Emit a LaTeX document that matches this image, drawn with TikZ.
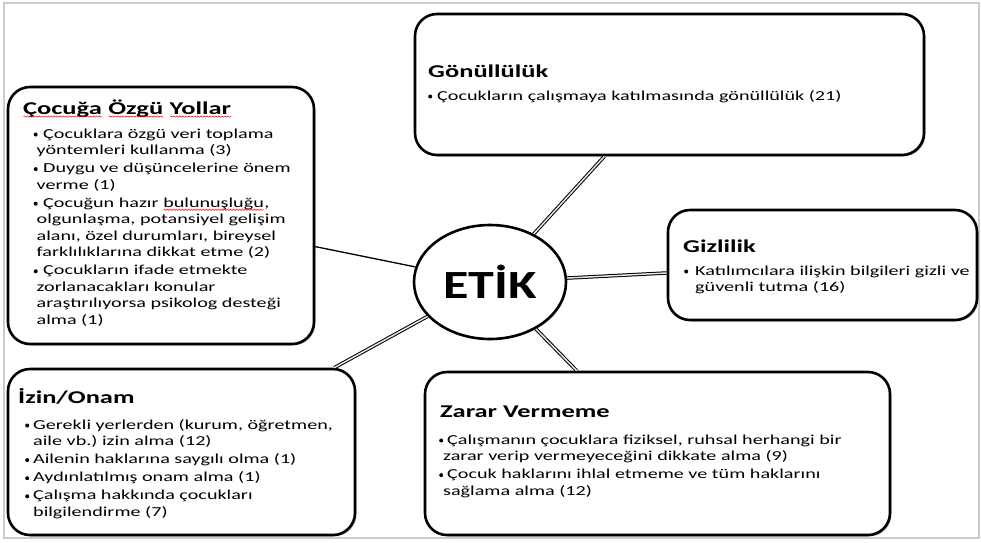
\documentclass[tikz,border=0pt]{standalone}
\usepackage{fontspec}
\setmainfont{Carlito}[FakeStretch=1.47]
\newfontfamily\etikfont{Carlito}[FakeStretch=1.3]
\usetikzlibrary{shapes.geometric,shadows,decorations.pathmorphing}
\setlength\parindent{0pt}
\frenchspacing
\newsavebox\sqbox
\newcommand\redsq[1]{\sbox\sqbox{#1}\leavevmode\rlap{\usebox\sqbox}\raisebox{-3.5pt}{\tikz[x=1pt,y=1pt]\draw[red, line width=0.5pt, decorate, decoration={snake, amplitude=0.7pt, segment length=3pt}] (0,0) -- (\the\wd\sqbox,0);}}
\newcommand\dotb{\makebox[0pt]{\raisebox{3.5pt}{\tikz[baseline=0pt]\fill[black] (0,0) circle (2pt);}}}
\newlength\bt
\newlength\hg
\newcommand\bitem[1]{\hangindent=\hg\hangafter=1\noindent\dotb\hspace*{\bt}#1\par}
\begin{document}
\begin{tikzpicture}[x=1pt,y=-1pt,
  box/.style={draw, line width=2.6pt, rounded corners=22pt, fill=white,
    drop shadow={shadow xshift=1.5pt, shadow yshift=-1.5pt, fill=black, opacity=0.25}},
  ttl/.style={anchor=base west, inner sep=0pt, font=\fontsize{18}{20}\selectfont\bfseries},
  blist/.style={anchor=base west, inner sep=0pt, text width=#1,
    font=\fontsize{13.7}{16.5}\selectfont,
    execute at begin node={\raggedright\frenchspacing\setlength\parskip{1.6pt}\setlength\parindent{0pt}}},
  link/.style={line width=1.3pt},
  dlink/.style={line width=1pt, double=white!80!gray, double distance=1.5pt}]
\useasboundingbox (0,0) rectangle (981,542);
\draw[gray!40, line width=1.5pt] (4,3) rectangle (979,538);

% boxes
\node[box, minimum width=306pt, minimum height=257pt] (cocuk) at (161,215.5) {};
\node[box, minimum width=509pt, minimum height=141pt] (gonul) at (669.5,84.5) {};
\node[box, minimum width=309pt, minimum height=110pt] (gizli) at (822.5,265) {};
\node[box, minimum width=347pt, minimum height=166pt] (izin) at (181.5,452) {};
\node[box, minimum width=465pt, minimum height=163pt] (zarar) at (657.5,453.5) {};
\node[draw, ellipse, line width=2.6pt, minimum width=152pt, minimum height=114pt,
  inner sep=0pt, fill=white, font=\etikfont\bfseries\fontsize{40}{44}\selectfont,
  drop shadow={shadow xshift=1.2pt, shadow yshift=-1.2pt, fill=black, opacity=0.2}] (etik) at (490,282) {ETİK};

% connectors
\draw[link] (cocuk) -- (etik);
\draw[dlink] (etik) -- (gonul);
\draw[dlink] (etik) -- (gizli);
\draw[dlink] (etik) -- (izin);
\draw[dlink] (etik) -- (zarar);

% texts
\node[ttl] (cocukT) at (23,114) {\redsq{Çocuğa} \redsq{Özgü} \redsq{Yollar}};
\node[blist=400pt] (cocukL) at (35.5,138) {\setlength\bt{7.5pt}\setlength\hg{1pt}%
  \bitem{Çocuklara özgü veri toplama\newline yöntemleri kullanma (3)}%
  \bitem{Duygu ve düşüncelerine önem\newline verme (1)}%
  \bitem{Çocuğun hazır \redsq{bulunuşluğu},\newline olgunlaşma, potansiyel gelişim\newline alanı, özel durumları, bireysel\newline farklılıklarına dikkat etme (2)}%
  \bitem{Çocukların ifade etmekte\newline zorlanacakları konular\newline araştırılıyorsa psikolog desteği\newline alma (1)}};

\node[ttl] (gonulT) at (428,77) {Gönüllülük};
\node[blist=500pt] (gonulL) at (430,100) {\setlength\bt{7pt}\setlength\hg{7pt}%
  \bitem{Çocukların çalışmaya katılmasında gönüllülük (21)}};

\node[ttl] (gizliT) at (683,252) {Gizlilik};
\node[blist=400pt] (gizliL) at (686,275) {\setlength\bt{9pt}\setlength\hg{9pt}%
  \bitem{Katılımcılara ilişkin bilgileri gizli ve\newline güvenli tutma (16)}};

\node[ttl] (izinT) at (18,403) {İzin/Onam};
\node[blist=400pt] (izinL) at (27,429) {\setlength\bt{6pt}\setlength\hg{6pt}%
  \bitem{Gerekli yerlerden (kurum, öğretmen,\newline aile vb.) izin alma (12)}%
  \bitem{Ailenin haklarına saygılı olma (1)}%
  \bitem{Aydınlatılmış onam alma (1)}%
  \bitem{Çalışma hakkında çocukları\newline bilgilendirme (7)}};

\node[ttl] (zararT) at (440,417) {Zarar Vermeme};
\node[blist=500pt] (zararL) at (441,444) {\setlength\bt{6pt}\setlength\hg{2pt}%
  \bitem{Çalışmanın çocuklara fiziksel, ruhsal herhangi bir\newline zarar verip vermeyeceğini dikkate alma (9)}%
  \bitem{Çocuk haklarını ihlal etmeme ve tüm haklarını\newline sağlama alma (12)}};
\end{tikzpicture}
\end{document}
